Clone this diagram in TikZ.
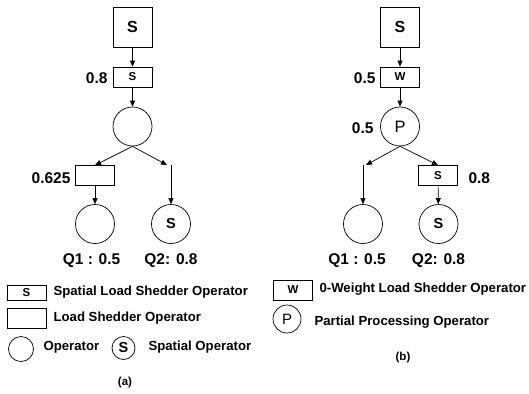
\documentclass[tikz,border=0pt]{standalone}
\usepackage{fontspec}
\setmainfont{Liberation Sans}
\usepackage{tikz}
\usetikzlibrary{positioning,arrows.meta}

\begin{document}
\begin{tikzpicture}[x=1pt, y=-1pt,
  srcbox/.style={draw, line width=0.7pt, minimum width=39pt, minimum height=40pt, inner sep=0pt, font=\fontsize{16}{16}\selectfont\bfseries},
  shedder/.style={draw, line width=0.7pt, minimum width=39pt, minimum height=20pt, inner sep=0pt, font=\fontsize{11.5}{11.5}\selectfont\bfseries},
  op/.style={draw, circle, line width=0.7pt, minimum size=39pt, inner sep=0pt, font=\fontsize{14.5}{14.5}\selectfont\bfseries},
  rate/.style={font=\fontsize{15.5}{15.5}\selectfont\bfseries},
  legtext/.style={anchor=west, font=\fontsize{13.2}{14}\selectfont\bfseries},
  flow/.style={line width=0.7pt, -{Triangle[length=6pt,width=5pt]}}
]
  \useasboundingbox (0,0) rectangle (529,393);

  % (a) spatial load shedding
  \node[srcbox] (srcA) at (132.5,27) {S};
  \node[shedder] (shA) at (132.5,77) {S};
  \node[rate, anchor=east] (rA1) at (111,78) {0.8};
  \node[op] (opA) at (132.5,126.5) {};
  \node[shedder] (lsA) at (95,175.5) {};
  \node[rate, anchor=east] (rA2) at (74,178) {0.625};
  \coordinate (brA) at (171,165);
  \node[op] (q1A) at (95,224) {};
  \node[op] (q2A) at (171,224) {S};
  \node[rate] (lq1A) at (91.5,261) {Q1 : 0.5};
  \node[rate] (lq2A) at (171,261) {Q2: 0.8};

  \draw[flow] (srcA) -- (shA);
  \draw[flow] (shA) -- (opA);
  \draw[flow] (opA.south) -- (lsA.north);
  \draw[flow] (opA.south) -- ([xshift=-4pt]brA);
  \draw[flow] (brA) -- (q2A);
  \draw[flow] (lsA) -- (q1A);

  % legend (a)
  \node[shedder, minimum height=15pt] (kS) at (26.5,292.5) {S};
  \node[legtext] (kSt) at (50,292) {Spatial Load Shedder Operator};
  \node[shedder] (kL) at (26.5,318) {};
  \node[legtext] (kLt) at (50,318) {Load Shedder Operator};
  \node[op, minimum size=25pt] (kO) at (21,349) {};
  \node[legtext] (kOt) at (40,347) {Operator};
  \node[op, minimum size=23pt] (kSO) at (123.5,348) {S};
  \node[legtext] (kSOt) at (145,347) {Spatial Operator};
  \node[font=\fontsize{11.5}{11.5}\selectfont\bfseries] (capA) at (125,383) {(a)};

  % (b) partial processing
  \node[srcbox] (srcB) at (400,27) {S};
  \node[shedder] (shB) at (400,77) {W};
  \node[rate, anchor=east] (rB1) at (379,78) {0.5};
  \node[op, font=\fontsize{16.5}{16.5}\selectfont] (opB) at (400,126.5) {P};
  \node[rate, anchor=east] (rB2) at (377,128) {0.5};
  \coordinate (blB) at (363,165);
  \node[shedder] (lsB) at (438,175.5) {S};
  \node[rate, anchor=west] (rB3) at (465,178) {0.8};
  \node[op] (q1B) at (363,224) {};
  \node[op] (q2B) at (438.5,224) {S};
  \node[rate] (lq1B) at (357,261) {Q1 : 0.5};
  \node[rate] (lq2B) at (438.5,261) {Q2: 0.8};

  \draw[flow] (srcB) -- (shB);
  \draw[flow] (shB) -- (opB);
  \draw[flow] (opB.south) -- ([xshift=3pt]blB);
  \draw[flow] (blB) -- (q1B);
  \draw[flow] (opB.south) -- (lsB.north);
  \draw[flow] (lsB) -- (q2B);

  % legend (b)
  \node[shedder] (kW) at (293,290) {W};
  \node[legtext] (kWt) at (316,289) {0-Weight Load Shedder Operator};
  \node[op, minimum size=28pt, font=\fontsize{15}{15}\selectfont] (kP) at (287,319) {P};
  \node[legtext] (kPt) at (311,322) {Partial Processing Operator};
  \node[font=\fontsize{11.5}{11.5}\selectfont\bfseries] (capB) at (403,358) {(b)};
\end{tikzpicture}
\end{document}
